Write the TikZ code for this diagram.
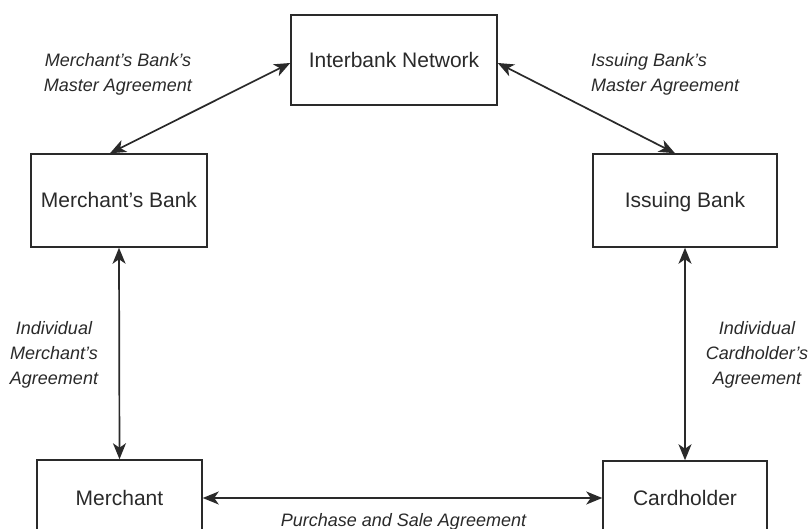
\documentclass[tikz,border=0pt]{standalone}
\usepackage{fontspec}
\setmainfont{Liberation Sans}
\usetikzlibrary{arrows.meta}
\definecolor{ink}{HTML}{2A2A2A}
\begin{document}
\begin{tikzpicture}[x=1pt,y=-1pt,
  box/.style={draw=ink,line width=1.5pt,text=ink,inner sep=0pt,
    text height=15pt,text depth=0pt,
    font=\fontsize{21}{25}\selectfont},
  lbl/.style={text=ink,inner sep=0pt,align=center,
    font=\itshape\fontsize{18}{25}\selectfont},
  link/.style={draw=ink,line width=1.7pt,
    {Stealth[length=16pt,width=13pt,inset=4.5pt]}-{Stealth[length=16pt,width=13pt,inset=4.5pt]}}]
\useasboundingbox[fill=white] (0,0) rectangle (809,529);
\node[box,minimum width=206pt,minimum height=90pt] (inter) at (394,60) {Interbank Network};
\node[box,minimum width=176pt,minimum height=93pt] (mbank) at (119,200.5) {Merchant's Bank};
\node[box,minimum width=184pt,minimum height=93pt] (ibank) at (685,200.5) {Issuing Bank};
\node[box,minimum width=165pt,minimum height=76pt] (merch) at (119.5,498) {Merchant};
\node[box,minimum width=164pt,minimum height=74pt] (card) at (685,498) {Cardholder};
\draw[link] ([yshift=-3pt]inter.west) -- ([xshift=-9pt]mbank.north);
\draw[link] ([yshift=-3pt]inter.east) -- ([xshift=-10pt]ibank.north);
\draw[link] (mbank.south) -- (merch.north);
\draw[link] (ibank.south) -- (card.north);
\draw[link] (merch.east) -- (card.west);
\node[lbl] (l1) at (118,74.5) {Merchant's Bank's\\Master Agreement};
\node[lbl,align=left,anchor=west] (l2) at (591,74) {Issuing Bank's\\Master Agreement};
\node[lbl] (l3) at (54,355) {Individual\\Merchant's\\Agreement};
\node[lbl] (l4) at (757,355) {Individual\\Cardholder's\\Agreement};
\node[lbl] (l5) at (403.5,522) {Purchase and Sale Agreement};
\end{tikzpicture}
\end{document}
